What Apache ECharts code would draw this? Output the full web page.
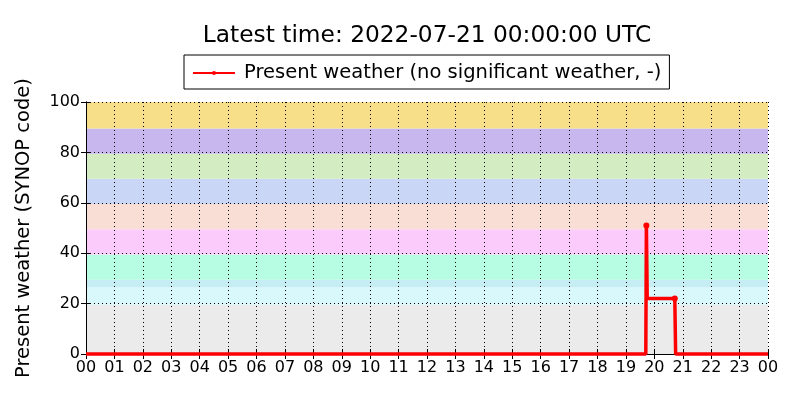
<!DOCTYPE html>
<html><head><meta charset="utf-8">
<script src="https://cdn.jsdelivr.net/npm/echarts@6/dist/echarts.min.js"></script>
<style>html,body{margin:0;padding:0;background:#fff}#c{width:800px;height:400px}</style>
</head><body><div id="c"></div>
<script>
// Times in hours since 00 UTC, values = SYNOP present weather code
const times = [0, 19.70, 19.72, 19.75, 20.72, 20.75, 24];
const codes = [0, 0, 51, 22, 22, 0, 0];
const bandLow  = [0, 19.5, 26.5, 29.5, 39.5, 49.5, 59.5, 69.5, 79.5, 89.5];
const bandHigh = [19.5, 26.5, 29.5, 39.5, 49.5, 59.5, 69.5, 79.5, 89.5, 100];
const bandColors = ['#ebebeb','#d9f8fc','#c6ecf4','#b6fde4','#fbcbfb','#f8ded5','#c9d6f5','#d3ecc2','#c8b7ee','#f7df8a'];
const xTicks = [0,1,2,3,4,5,6,7,8,9,10,11,12,13,14,15,16,17,18,19,20,21,22,23,24];
const yTicks = [0,20,40,60,80,100];

const font = 'DejaVu Sans';
const chart = echarts.init(document.getElementById('c'));
const bandData = bandLow.map((lo,i)=>[lo, bandHigh[i], i]);
const lineData = times.map((t,i)=>({value:[t,codes[i]], symbolSize: (i===2 || i===4) ? 6 : 0}));
chart.setOption({
  animation:false,
  textStyle:{fontFamily:font},
  title:{text:'Latest time: 2022-07-21 00:00:00 UTC', left:427, textAlign:'center', top:24, padding:0,
    textStyle:{fontFamily:font, fontSize:23.3, fontWeight:'normal', color:'#000'}},
  legend:{top:55, left:184, padding:[8,8,6,8], borderColor:'#000', borderWidth:1, borderRadius:0,
    itemWidth:42, itemHeight:5, itemGap:10,
    textStyle:{fontFamily:font, fontSize:19.5, color:'#000', padding:[0,0,0,4]},
    data:[{name:'Present weather (no significant weather, -)'}]},
  grid:{left:86, right:32, top:102, bottom:46, show:false},
  xAxis:[{type:'value', min:0, max:24, interval:1, z:3,
    axisLine:{show:true, onZero:false, lineStyle:{color:'#000', width:1}},
    axisTick:{show:true, inside:true, length:5, lineStyle:{color:'#000'}},
    axisLabel:{fontFamily:font, fontSize:16, color:'#000', margin:6, formatter:v=>String(v%24).padStart(2,'0')},
    splitLine:{show:true, lineStyle:{color:'#000', type:[1,3], width:1}}},
    {type:'value', min:0, max:24, interval:1, position:'top', z:3,
    axisLine:{show:true, lineStyle:{color:'#000'}},
    axisTick:{show:true, inside:true, length:5, lineStyle:{color:'#000'}},
    axisLabel:{show:false}, splitLine:{show:false}}],
  yAxis:[{type:'value', min:0, max:100, interval:20, z:3,
    name:'Present weather (SYNOP code)', nameLocation:'middle', nameGap:52, nameRotate:90,
    nameTextStyle:{fontFamily:font, fontSize:19.5, color:'#000'},
    axisLine:{show:true, lineStyle:{color:'#000', width:1}},
    axisTick:{show:true, inside:true, length:5, lineStyle:{color:'#000'}},
    axisLabel:{fontFamily:font, fontSize:16, color:'#000', margin:6},
    splitLine:{show:true, lineStyle:{color:'#000', type:[1,3], width:1}}},
    {type:'value', min:0, max:100, interval:20, position:'right', z:3,
    axisLine:{show:true, lineStyle:{color:'#000'}},
    axisTick:{show:true, inside:true, length:5, lineStyle:{color:'#000'}},
    axisLabel:{show:false}, splitLine:{show:false}}],
  series:[
    {type:'custom', z:1, silent:true, xAxisIndex:0, yAxisIndex:0,
     data:bandData,
     renderItem:(params, api)=>{
       const lo=api.value(0), hi=api.value(1), idx=api.value(2);
       const p1=api.coord([0,hi]), p2=api.coord([24,lo]);
       return {type:'rect', shape:{x:p1[0], y:p1[1], width:p2[0]-p1[0], height:p2[1]-p1[1]},
         style:{fill:bandColors[idx]}};
     }},
    {type:'line', name:'Present weather (no significant weather, -)', z:5, clip:false,
     data:lineData,
     symbol:'circle', symbolSize:6, showAllSymbol:true,
     lineStyle:{color:'#ff0000', width:3.5}, itemStyle:{color:'#ff0000'}}
  ]
});
</script></body></html>
